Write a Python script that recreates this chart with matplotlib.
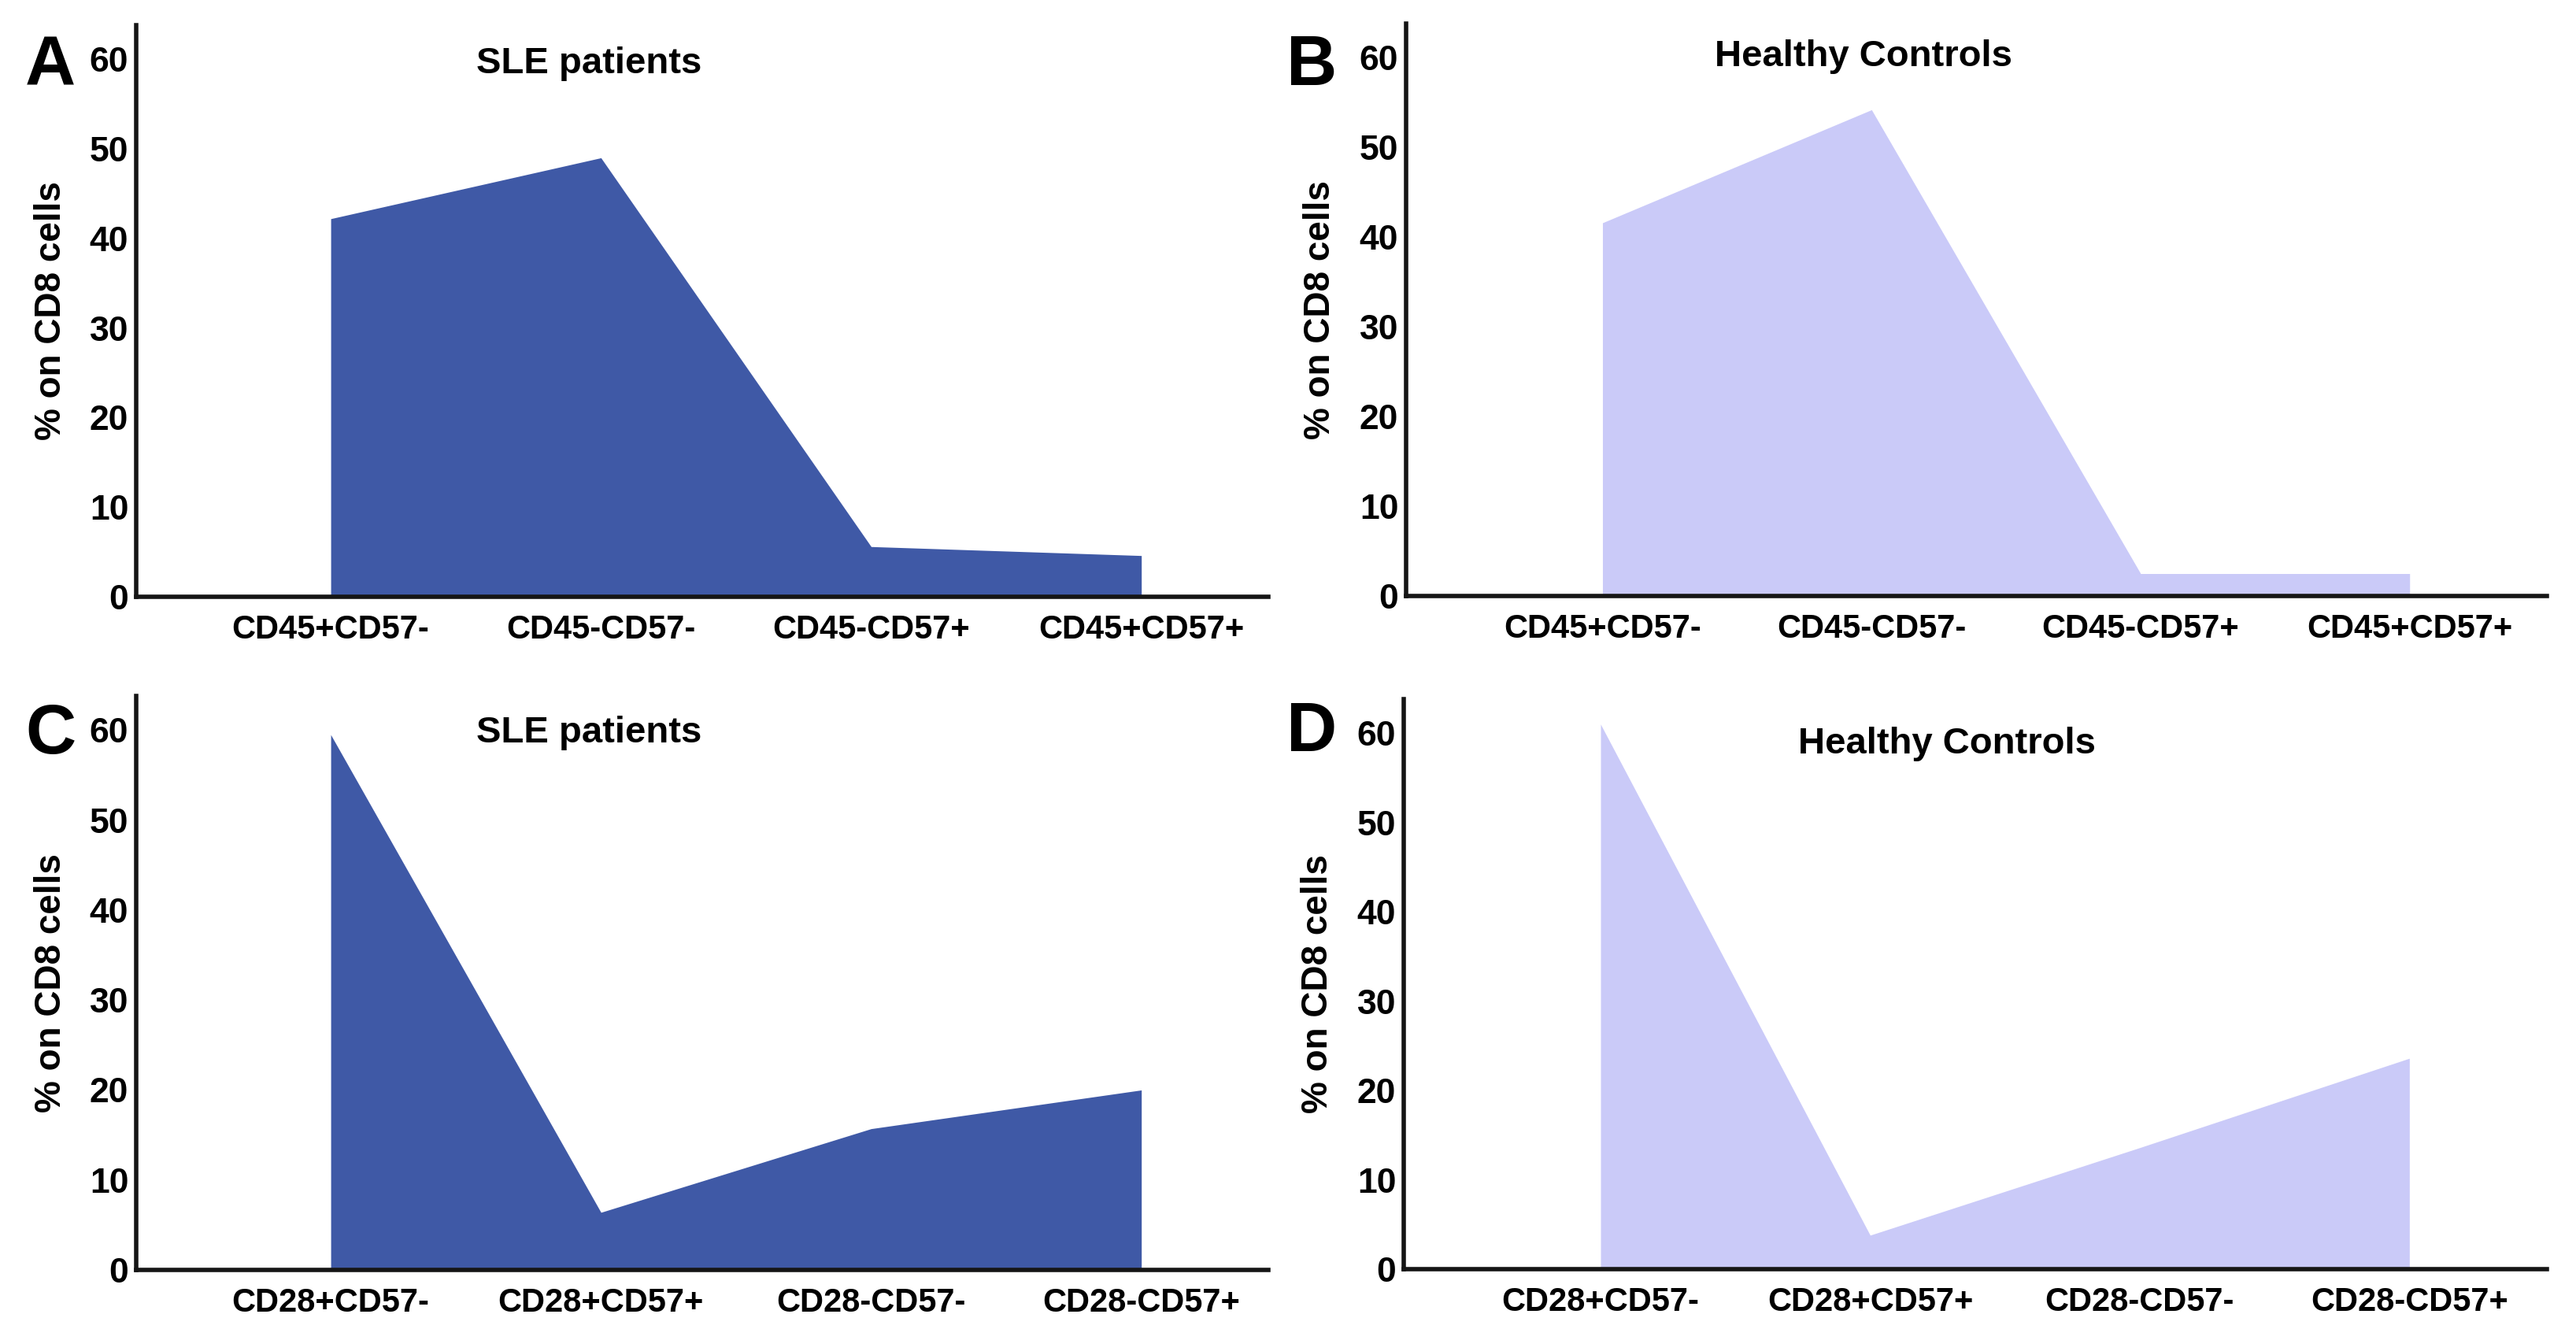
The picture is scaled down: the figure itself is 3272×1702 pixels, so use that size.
import matplotlib
matplotlib.use("Agg")
import matplotlib.pyplot as plt

plt.rcParams["font.family"] = ["Liberation Sans", "DejaVu Sans"]
plt.rcParams["font.weight"] = "bold"

# data
cd45_labels = ["CD45+CD57-", "CD45-CD57-", "CD45-CD57+", "CD45+CD57+"]
cd28_labels = ["CD28+CD57-", "CD28+CD57+", "CD28-CD57-", "CD28-CD57+"]

sle_cd45 = [42.2, 49.0, 5.6, 4.6]
hc_cd45 = [41.6, 54.2, 2.5, 2.5]
sle_cd28 = [59.5, 6.4, 15.7, 20.0]
hc_cd28 = [61.0, 3.8, 13.6, 23.6]

y_ticks = [0, 10, 20, 30, 40, 50, 60]

SLE_COLOR = "#3f59a6"
HC_COLOR = "#cacaf8"

W, H = 3273, 1702


def px_box(left, top, right, bottom):
    # convert a pixel box (top-left origin) to figure fractions
    return [left / W, 1 - bottom / H, (right - left) / W, (bottom - top) / H]


def draw_panel(fig, box, labels, values, color, title, title_xy, xlim):
    ax = fig.add_axes(box)
    x = list(range(len(labels)))
    ax.fill_between(x, values, 0, color=color, linewidth=0)
    ax.set_xlim(*xlim)
    ax.set_ylim(0, 63.8)
    ax.set_xticks(x)
    ax.set_xticklabels(labels, fontsize=30, fontweight="bold")
    ax.set_yticks(y_ticks)
    ax.set_yticklabels([str(t) for t in y_ticks], fontsize=32, fontweight="bold")
    ax.tick_params(axis="both", length=0)
    ax.tick_params(axis="y", pad=7)
    ax.tick_params(axis="x", pad=16)
    for side in ["top", "right"]:
        ax.spines[side].set_visible(False)
    for side in ["left", "bottom"]:
        ax.spines[side].set_linewidth(4)
        ax.spines[side].set_color("#151515")
    ax.set_ylabel("% on CD8 cells", fontsize=33, fontweight="bold")
    ax.yaxis.set_label_coords(-0.06, 0.5)
    ax.text(title_xy[0], title_xy[1], title, transform=ax.transAxes,
            ha="center", va="baseline", fontsize=34, fontweight="bold")
    ax.set_facecolor("none")
    return ax


fig = plt.figure(figsize=(W / 100, H / 100), dpi=100)

left_xlim = (-0.72, 3.47)
right_xlim = (-0.73, 3.51)

draw_panel(fig, px_box(173, 32, 1611, 758), cd45_labels, sle_cd45,
           SLE_COLOR, "SLE patients", (0.40, 0.916), left_xlim)
draw_panel(fig, px_box(1786, 30, 3235, 757), cd45_labels, hc_cd45,
           HC_COLOR, "Healthy Controls", (0.401, 0.926), right_xlim)
draw_panel(fig, px_box(173, 884, 1611, 1613), cd28_labels, sle_cd28,
           SLE_COLOR, "SLE patients", (0.40, 0.919), left_xlim)
draw_panel(fig, px_box(1783, 888, 3235, 1612), cd28_labels, hc_cd28,
           HC_COLOR, "Healthy Controls", (0.475, 0.905), right_xlim)

# panel letters
for letter, (lx, ly) in zip("ABCD", [(32, 108), (1634, 108), (32, 957), (1634, 954)]):
    fig.text(lx / W, 1 - ly / H, letter, ha="left", va="baseline",
             fontsize=64, fontweight="bold")

fig.savefig("out.png", dpi=100, facecolor="white")
